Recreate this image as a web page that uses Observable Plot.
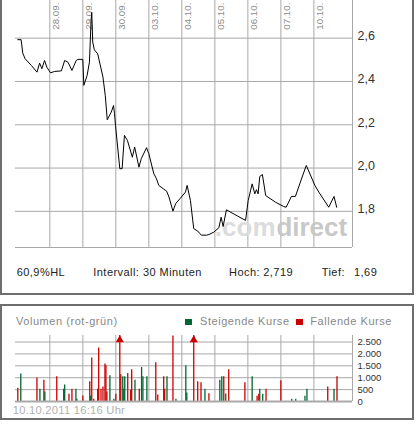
<!DOCTYPE html>
<html><head><meta charset="utf-8">
<script src="https://cdn.jsdelivr.net/npm/d3@7"></script>
<script src="https://cdn.jsdelivr.net/npm/@observablehq/plot@0.6"></script>
<style>
body{margin:0;background:#fff;font-family:"Liberation Sans",Arial,sans-serif;}
#wrap{position:relative;width:417px;height:425px;overflow:hidden;background:#fff;}
.box{position:absolute;box-sizing:border-box;border:2px solid #6e6e6e;}
.t{position:absolute;white-space:nowrap;line-height:1;font-size:11px;}
.info{color:#222;letter-spacing:0.45px;top:267.2px;}
.sq{position:absolute;width:7px;height:6px;}
#p1,#p2{position:absolute;left:0;}
#p1{top:0;} #p2{top:328px;}
</style></head><body>
<div id="wrap">
 <div class="box" style="left:0;top:-4px;width:414px;height:299px"></div>
 <div class="box" style="left:0;top:304px;width:414px;height:116px"></div>
 <div id="p1"></div>
 <div id="p2"></div>
 <div class="t info" style="left:16.7px">60,9%HL</div>
 <div class="t info" style="left:93.3px">Intervall: 30 Minuten</div>
 <div class="t info" style="left:229px">Hoch:</div>
 <div class="t info" style="left:263.3px">2,719</div>
 <div class="t info" style="left:321.7px">Tief:</div>
 <div class="t info" style="left:354px">1,69</div>
 <div class="t" style="left:16px;top:315.7px;color:#888;letter-spacing:0.55px">Volumen (rot-grün)</div>
 <div class="sq" style="left:185.3px;top:319.3px;background:#006633"></div>
 <div class="t" style="left:200px;top:315.7px;color:#888;letter-spacing:0.55px">Steigende Kurse</div>
 <div class="sq" style="left:295.7px;top:319.3px;background:#cc0000"></div>
 <div class="t" style="left:310.3px;top:315.7px;color:#888;letter-spacing:0.55px">Fallende Kurse</div>
 <div class="t" style="left:12.7px;top:404.5px;color:#b0b0b0;letter-spacing:0.25px;font-size:11.2px">10.10.2011 16:16 Uhr</div>
</div>
<script>
// ---- data ----
const dateLabels = ["28.09.","29.09.","30.09.","03.10.","04.10.","05.10.","06.10.","07.10.","10.10."];
const dayTicks = [1,2,3,4,5,6,7,8,9];
const priceTicks = [1.8,2.0,2.2,2.4,2.6];
const volTicks = [0,500,1000,1500,2000,2500];

// trading-day position (0 = 27.09.) and price
const priceT = [0.03,0.13,0.18,0.25,0.44,0.61,0.69,0.76,0.84,0.91,1.02,1.14,1.35,1.45,1.55,1.67,1.80,1.85,2.00,2.03,2.13,2.20,2.25,2.27,2.30,2.35,2.45,2.61,2.68,2.74,2.86,2.93,2.96,2.99,3.12,3.19,3.26,3.35,3.50,3.57,3.70,3.77,3.93,4.00,4.15,4.23,4.30,4.44,4.54,4.61,4.73,4.81,4.94,5.11,5.16,5.26,5.36,5.48,5.55,5.59,5.75,5.82,5.97,6.12,6.19,6.25,6.35,6.42,6.93,7.01,7.13,7.21,7.26,7.31,7.36,7.44,7.54,7.84,8.09,8.16,8.32,8.44,8.59,8.77,9.03,9.15,9.45,9.61,9.69];
const priceV = [2.593,2.593,2.531,2.505,2.474,2.443,2.485,2.459,2.497,2.466,2.440,2.446,2.449,2.497,2.489,2.451,2.497,2.502,2.502,2.382,2.428,2.489,2.682,2.719,2.582,2.546,2.528,2.420,2.335,2.223,2.258,2.289,2.251,2.197,1.997,1.997,2.151,2.128,2.050,2.097,2.004,2.043,2.094,2.066,1.974,1.951,1.920,1.904,1.893,1.866,1.801,1.835,1.858,1.889,1.920,1.850,1.720,1.709,1.697,1.690,1.690,1.693,1.704,1.724,1.773,1.730,1.807,1.801,1.758,1.850,1.927,1.881,1.900,1.881,1.961,1.970,1.873,1.842,1.822,1.819,1.869,1.869,1.935,2.012,1.920,1.889,1.819,1.869,1.819];

const volT = [0.03,0.12,0.61,0.70,0.82,0.85,1.21,1.42,1.45,1.58,1.67,1.79,1.82,2.00,2.21,2.24,2.27,2.33,2.45,2.48,2.55,2.61,2.67,2.70,2.73,2.82,2.94,3.00,3.12,3.15,3.21,3.24,3.27,3.36,3.45,3.48,3.58,3.71,3.78,3.82,3.94,4.21,4.27,4.45,4.48,4.55,4.73,4.82,5.12,5.15,5.36,5.48,5.58,5.70,5.82,6.15,6.21,6.27,6.33,6.42,6.91,7.13,7.28,7.33,7.36,7.45,7.55,8.00,8.33,8.45,8.73,8.79,9.42,9.61,9.70];
const volV = [559,1152,983,517,898,402,1038,517,699,305,517,517,93,233,826,233,1830,93,517,2254,517,614,1576,1504,402,1080,93,305,3500,1123,1038,517,1038,1180,475,1335,898,517,1433,1038,1038,1631,275,1038,517,1038,2750,93,1504,360,3500,826,784,517,330,898,1038,1038,320,1330,784,1038,220,305,517,305,517,869,93,93,220,517,614,517,1038];
const volDir = ["d","u","d","u","d","u","d","u","u","d","d","u","u","d","d","u","d","d","d","d","d","d","d","d","d","u","u","d","d","d","u","u","u","d","d","d","u","d","u","u","u","d","d","d","d","u","d","u","u","u","d","d","d","u","d","u","u","d","u","d","d","u","d","d","u","u","d","d","u","u","u","u","d","u","d"];

// ---- scales ----
const xDomain = [-0.04, 10.17];
const yDomain = [1.633, 2.774];
const volMax = 2775;
const font = "'Liberation Sans', Arial, sans-serif";
const grid = "#a8a8a8";

const price = priceT.map((t, i) => ({t, v: priceV[i]}));
const vol = volT.map((t, i) => ({t, v: volV[i], dir: volDir[i] === "u" ? "Steigende Kurse" : "Fallende Kurse"}));

const p1 = Plot.plot({
  width: 417, height: 248,
  marginLeft: 15, marginRight: 65, marginTop: 0, marginBottom: 1,
  x: {domain: xDomain, axis: null},
  y: {domain: yDomain, axis: null},
  style: {fontFamily: font, background: "transparent", overflow: "visible"},
  marks: [
    Plot.ruleY(priceTicks, {stroke: grid}),
    Plot.ruleX(dayTicks, {stroke: grid}),
    Plot.ruleY([yDomain[0]], {stroke: grid}),
    Plot.ruleX([xDomain[1]], {stroke: grid}),
    Plot.text(dateLabels, {x: (d, i) => dayTicks[i], frameAnchor: "top", rotate: -90,
      textAnchor: "end", lineAnchor: "top", dx: 2.5, dy: 2, fill: "#8c8c8c", fontSize: 9.8}),
    Plot.text([".com"], {frameAnchor: "bottom-right", textAnchor: "end", lineAnchor: "bottom",
      dx: -77, dy: -12, fill: "#dcdcdc", fontSize: 26, fontWeight: "bold"}),
    Plot.text(["direct"], {frameAnchor: "bottom-right", textAnchor: "end", lineAnchor: "bottom",
      dx: -5.3, dy: -12, fill: "#c8c8c8", fontSize: 26, fontWeight: "bold"}),
    Plot.line(price, {x: "t", y: "v", stroke: "#000", strokeWidth: 1}),
    Plot.text(priceTicks, {y: d => d, frameAnchor: "right", textAnchor: "start", dx: 5, dy: -2,
      text: d => d.toFixed(1).replace(".", ","), fill: "#333", fontSize: 12.5})
  ]
});
document.getElementById("p1").appendChild(p1);

const p2 = Plot.plot({
  width: 417, height: 77,
  marginLeft: 15, marginRight: 65, marginTop: 7, marginBottom: 4,
  x: {domain: xDomain, axis: null},
  y: {domain: [0, volMax], axis: null},
  color: {domain: ["Steigende Kurse", "Fallende Kurse"], range: ["#006633", "#cc0000"]},
  style: {fontFamily: font, background: "transparent", overflow: "visible"},
  marks: [
    Plot.ruleY(volTicks.filter(d => d > 0), {stroke: grid}),
    Plot.ruleX(dayTicks, {stroke: grid}),
    Plot.ruleX([xDomain[1]], {stroke: grid}),
    Plot.ruleX(vol, {x: "t", y1: 0, y2: d => Math.min(d.v, volMax), stroke: "dir", strokeWidth: 1.3}),
    Plot.dot(vol.filter(d => d.v > volMax), {x: "t", y: () => volMax, symbol: "triangle",
      fill: "#cc0000", r: 3, dy: 4.5}),
    Plot.ruleY([0], {stroke: "#aaa", strokeWidth: 2.2}),
    Plot.text(volTicks, {y: d => d, frameAnchor: "right", textAnchor: "start", dx: 5,
      text: d => d3.format(",")(d).replace(/,/g, "."), fill: "#333", fontSize: 9.5})
  ]
});
document.getElementById("p2").appendChild(p2);
</script>
</body></html>
